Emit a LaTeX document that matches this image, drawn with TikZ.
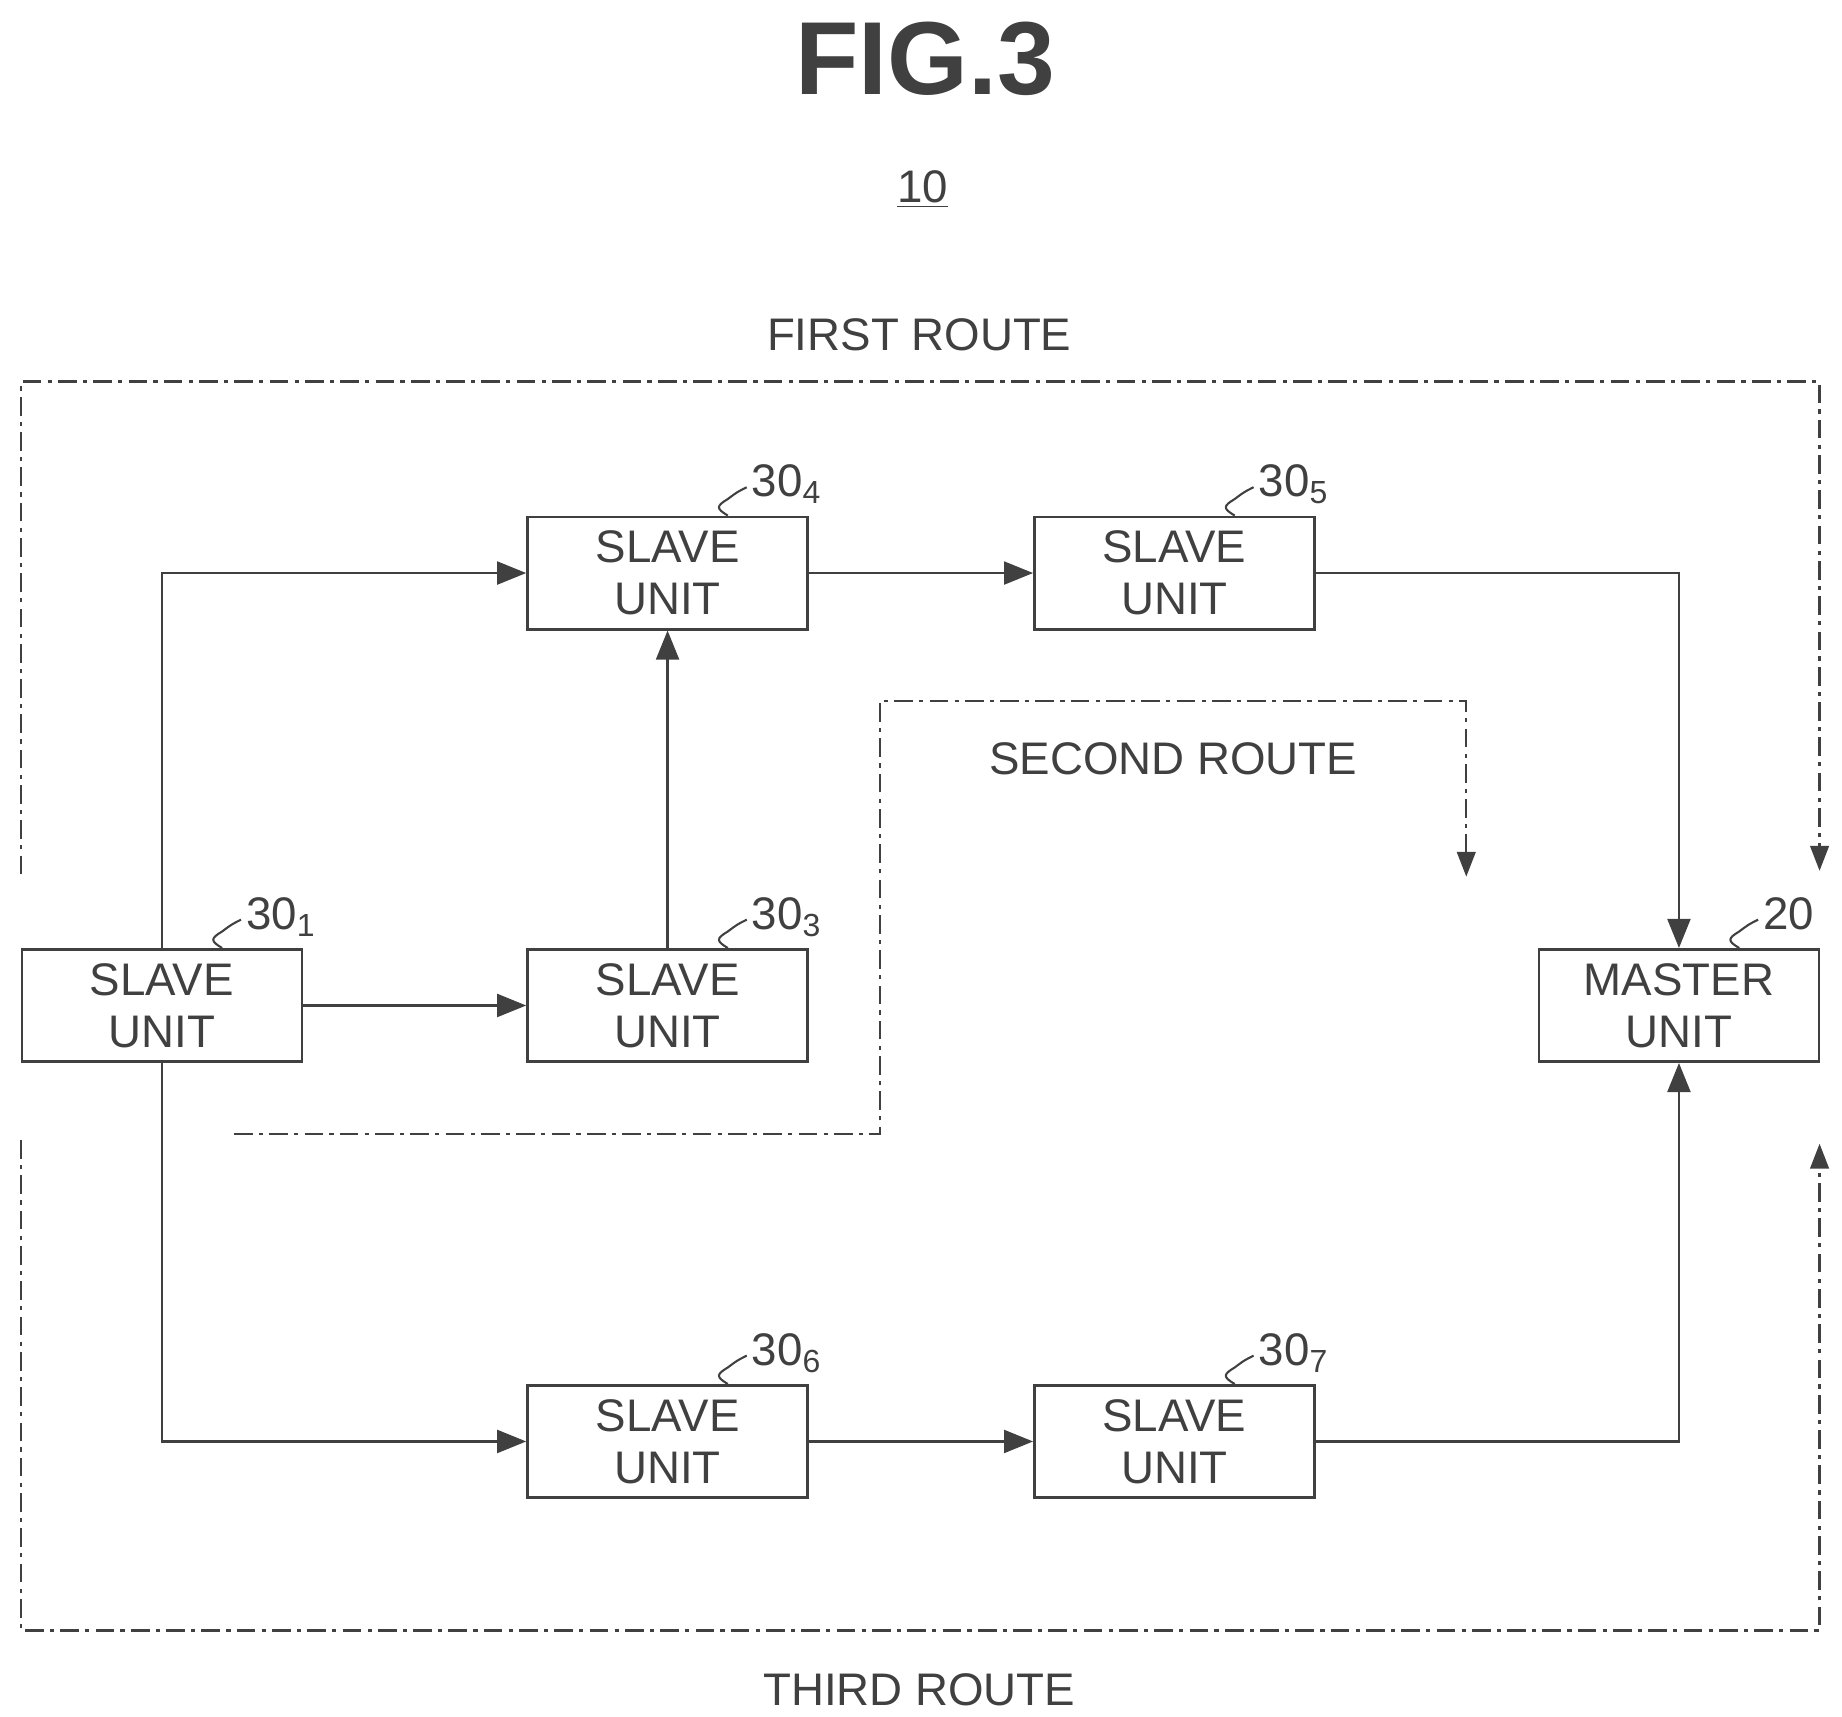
\documentclass[tikz,border=0pt]{standalone}
\usepackage{fontspec}
\setmainfont{Liberation Sans}
\usetikzlibrary{arrows.meta,calc}
\definecolor{ink}{gray}{0.25}
\begin{document}
\begin{tikzpicture}[x=0.02cm,y=-0.02cm,
  box/.style={draw=ink,line width=1.3pt,minimum width=4.74cm,minimum height=1.9cm,inner sep=0pt,align=center,font=\fontsize{22}{25}\selectfont,text=ink},
  conn/.style={draw=ink,line width=1.3pt,-{Triangle[length=14pt,width=11pt]}},
  route/.style={draw=ink,line width=1.1pt,dash pattern=on 9pt off 3pt on 2pt off 3pt},
  routearr/.style={route,-{Triangle[length=12pt,width=9pt]}},
  lbl/.style={font=\fontsize{22}{25}\selectfont,text=ink},
  sq/.style={draw=ink,line width=1pt}]
\useasboundingbox (0,0) rectangle (1559,1453);
\node[font=\bfseries\fontsize{50}{54}\selectfont,text=ink] (fig) at (783,50) {FIG.3};
\node[lbl] (ten) at (781,160) {\underline{10}};
\node[lbl] (r1) at (778,283) {FIRST ROUTE};
\node[lbl] (r2) at (993,642) {SECOND ROUTE};
\node[lbl] (r3) at (778,1430) {THIRD ROUTE};

\node[box] (s1) at (137,851) {SLAVE\\UNIT};
\node[box] (s3) at (565,851) {SLAVE\\UNIT};
\node[box] (s4) at (565,485) {SLAVE\\UNIT};
\node[box] (s5) at (994,485) {SLAVE\\UNIT};
\node[box] (m) at (1421,851) {MASTER\\UNIT};
\node[box] (s6) at (565,1220) {SLAVE\\UNIT};
\node[box] (s7) at (994,1220) {SLAVE\\UNIT};

\foreach \n/\t in {s1/30\textsubscript{1},s3/30\textsubscript{3},s4/30\textsubscript{4},s5/30\textsubscript{5},s6/30\textsubscript{6},s7/30\textsubscript{7},m/20}{
  \coordinate (\n p) at ($(\n.north)+(51,0)$);
  \draw[sq] (\n p) .. controls +(-10,-6) and +(-10,6) .. ++(0,-14) coordinate (\n q) .. controls +(8,-6) .. ++(16,-10);
  \node[lbl,anchor=base west,inner sep=0pt] (\n l) at ($(\n p)+(20,-16)$) {\t};
}

\draw[conn] (s1) -- (s3);
\draw[conn] (s1.north) |- (s4.west);
\draw[conn] (s3) -- (s4);
\draw[conn] (s4) -- (s5);
\draw[conn] (s5.east) -| (m.north);
\draw[conn] (s1.south) |- (s6.west);
\draw[conn] (s6) -- (s7);
\draw[conn] (s7.east) -| (m.south);

\coordinate (a1) at (18,740); \coordinate (a2) at (1540,737);
\coordinate (b1) at (18,965); \coordinate (b2) at (1540,968);
\coordinate (c1) at (198,960); \coordinate (c2) at (1241,742);
\draw[routearr] (a1) |- (1540,323) -- (a2);
\draw[routearr] (b1) |- (1540,1380) -- (b2);
\draw[routearr] (c1) -- (745,960) -- (745,593) -| (c2);
\end{tikzpicture}
\end{document}
